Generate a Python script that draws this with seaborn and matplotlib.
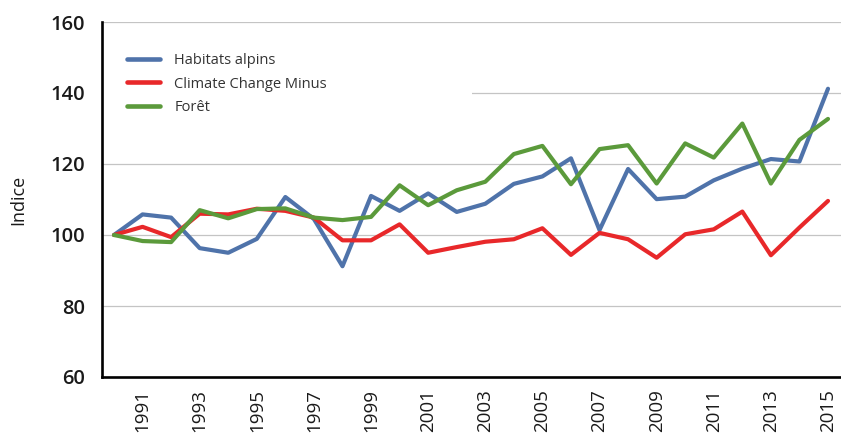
import matplotlib
matplotlib.use("Agg")
import matplotlib.pyplot as plt
from matplotlib.lines import Line2D
import pandas as pd
import seaborn as sns

# Index values (base 1990 = 100)
years = list(range(1990, 2016))
habitats_alpins = [100, 105.8, 104.9, 96.3, 95.0, 98.9, 110.7, 104.5, 91.2, 111.0,
                   106.8, 111.7, 106.5, 108.8, 114.4, 116.5, 121.6, 101.4, 118.6, 110.1,
                   110.8, 115.4, 118.7, 121.4, 120.7, 141.2]
climate_change_minus = [100, 102.3, 99.4, 106.0, 105.8, 107.4, 106.8, 104.9, 98.5, 98.5,
                        103.0, 95.0, 96.6, 98.1, 98.8, 101.9, 94.4, 100.6, 98.8, 93.6,
                        100.2, 101.6, 106.6, 94.3, 102.1, 109.6]
foret = [100, 98.3, 98.0, 107.0, 104.7, 107.3, 107.5, 104.9, 104.2, 105.1,
         114.0, 108.4, 112.6, 115.0, 122.8, 125.1, 114.3, 124.2, 125.3, 114.5,
         125.8, 121.8, 131.4, 114.5, 126.8, 132.7]
series_names = ["Habitats alpins", "Climate Change Minus", "Forêt"]
series_colors = ["#4F73AA", "#E8282A", "#5B9A3B"]
y_ticks = [60, 80, 100, 120, 140, 160]
x_tick_years = years[1::2]

df = pd.DataFrame({
    "Année": years * 3,
    "Indice": habitats_alpins + climate_change_minus + foret,
    "Série": [series_names[0]] * len(years)
             + [series_names[1]] * len(years)
             + [series_names[2]] * len(years),
})

sns.set_style("white")
plt.rcParams["font.family"] = ["Open Sans", "DejaVu Sans"]

W, H = 841, 437
fig = plt.figure(figsize=(W / 100, H / 100), dpi=100)
ax_l, ax_r, ax_t, ax_b = 102, 841, 22, 377
ax = fig.add_axes([ax_l / W, 1 - ax_b / H, (ax_r - ax_l) / W, (ax_b - ax_t) / H])

palette = dict(zip(series_names, series_colors))
sns.lineplot(data=df, x="Année", y="Indice", hue="Série", palette=palette,
             linewidth=3.0, legend=False, ax=ax,
             solid_joinstyle="round", solid_capstyle="round", zorder=3)

ax.set_xlim(1989.58, 2015.455)
ax.set_ylim(60, 160)
ax.set_yticks(y_ticks)
ax.set_xticks(x_tick_years)
ax.set_xticklabels([str(y) for y in x_tick_years], rotation=90)
ax.tick_params(axis="x", length=0, pad=9, labelsize=13.5, colors="#1a1a1a")
ax.tick_params(axis="y", length=0, pad=12, labelsize=14.5, colors="#1a1a1a")
for lbl in ax.get_yticklabels():
    lbl.set_fontweight("semibold")
ax.set_xlabel("")
ax.set_ylabel("")

ax.grid(axis="y", color="#C4C4C4", linewidth=0.9)
ax.grid(axis="x", visible=False)
ax.set_axisbelow(True)
for side in ("top", "right"):
    ax.spines[side].set_visible(False)
for side in ("left", "bottom"):
    ax.spines[side].set_color("black")
    ax.spines[side].set_linewidth(1.9)
    ax.spines[side].set_zorder(6)

fig.text(18 / W, 1 - 200 / H, "Indice", rotation=90, ha="center", va="center",
         fontsize=13, color="#1a1a1a")

handles = [Line2D([0], [0], color=c, linewidth=3.3, solid_capstyle="round")
           for c in series_colors]
leg_w = (472 - ax_l) / (ax_r - ax_l)
leg_top = 1 - (28 - ax_t) / (ax_b - ax_t)
leg = ax.legend(handles, series_names, loc="upper left",
                bbox_to_anchor=(0.0, leg_top, leg_w, 0.0), mode="expand",
                borderaxespad=0, borderpad=1.7, handlelength=2.3, handletextpad=0.95,
                labelspacing=0.6, fontsize=10.5, frameon=True, fancybox=False,
                facecolor="white", edgecolor="none", framealpha=1.0,
                labelcolor="#333333")
leg.set_zorder(5)

fig.savefig("out.png", dpi=100)
